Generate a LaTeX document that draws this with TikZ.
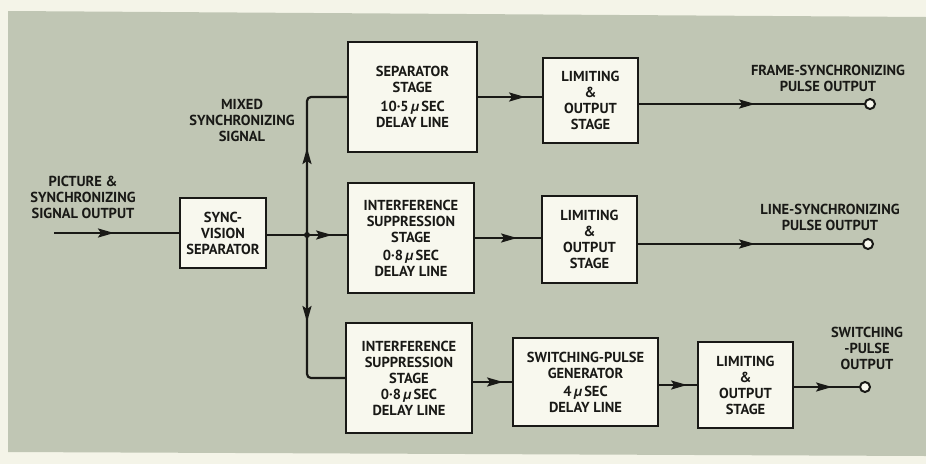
\documentclass[tikz,border=0pt]{standalone}
\usepackage{fontspec}
\setmainfont{PT Sans}
\usetikzlibrary{arrows.meta,decorations.markings}
\definecolor{panel}{RGB}{192,198,180}
\definecolor{paper}{RGB}{244,244,232}
\definecolor{boxfill}{RGB}{248,248,238}
\definecolor{ink}{RGB}{25,25,22}
\newcommand{\micro}{{\itshape µ}}
\tikzset{
  blk/.style={draw=ink,line width=2.2pt,fill=boxfill,align=center,inner sep=0pt,
    font=\bfseries\fontsize{14.5}{16}\selectfont,text=ink},
  lbl/.style={align=center,inner sep=0pt,font=\bfseries\fontsize{14.5}{16}\selectfont,text=ink},
  wire/.style={draw=ink,line width=2.2pt},
  arrowat/.style={postaction={decorate},decoration={markings,
    mark=at position #1 with {\arrow{Stealth[length=16pt,width=9pt,inset=3pt]}}}},
  term/.style={circle,draw=ink,line width=2pt,fill=boxfill,minimum size=10pt,inner sep=0pt}
}
\begin{document}
\begin{tikzpicture}[x=1pt,y=-1pt]
\useasboundingbox[fill=paper] (0,0) rectangle (926,464);
\fill[panel] (8,11) -- (926,17) -- (926,456) -- (8,452) -- cycle;

% boxes
\node[blk,minimum width=86pt,minimum height=70pt] (sync) at (223,233) {SYNC-\\VISION\\SEPARATOR};
\node[blk,minimum width=129pt,minimum height=110pt] (sep) at (412.5,97) {SEPARATOR\\STAGE\\[3pt]10·5\,\micro\,SEC\\DELAY LINE};
\node[blk,minimum width=126pt,minimum height=110pt] (int1) at (411,238) {INTERFERENCE\\SUPPRESSION\\STAGE\\[2pt]0·8\,\micro\,SEC\\DELAY LINE};
\node[blk,minimum width=126pt,minimum height=110pt] (int2) at (409,378) {INTERFERENCE\\SUPPRESSION\\STAGE\\0·8\,\micro\,SEC\\DELAY LINE};
\node[blk,minimum width=145pt,minimum height=88pt] (sw) at (585.5,382) {SWITCHING-PULSE\\GENERATOR\\[2pt]4\,\micro\,SEC\\DELAY LINE};
\node[blk,minimum width=95pt,minimum height=85pt] (lim1) at (590.5,100.5) {LIMITING\\\&\\OUTPUT\\STAGE};
\node[blk,minimum width=95pt,minimum height=87pt] (lim2) at (589.5,239.5) {LIMITING\\\&\\OUTPUT\\STAGE};
\node[blk,minimum width=95pt,minimum height=86pt] (lim3) at (745.5,385) {LIMITING\\\&\\OUTPUT\\STAGE};

% labels
\node[lbl] (linlbl) at (83,197) {PICTURE \&\\SYNCHRONIZING\\SIGNAL OUTPUT};
\node[lbl] (mixlbl) at (242,120) {MIXED\\SYNCHRONIZING\\SIGNAL};
\node[lbl] (frlbl) at (828,78) {FRAME-SYNCHRONIZING\\PULSE OUTPUT};
\node[lbl] (lnlbl) at (830,217) {LINE-SYNCHRONIZING\\PULSE OUTPUT};
\node[lbl] (swlbl) at (867,348) {SWITCHING\\-PULSE\\OUTPUT};

% coordinates
\coordinate (in) at (54,233);
\coordinate (j) at (307,235);

% wires
\draw[wire,arrowat=60pt] (in) -- (sync.west |- in);
\draw[wire,arrowat=65pt] (sync.east |- j) -- (j) -- (int1.west |- j);
\draw[wire,rounded corners=4pt,arrowat=87pt] (j) -- (j |- sep.west) -- (sep.west);
\draw[wire,rounded corners=4pt,arrowat=87pt] (j) -- (j |- int2.west) -- (int2.west);
\fill[ink] (j) circle (3pt);

\draw[wire,arrowat=47pt] (sep.east) -- (sep.east -| lim1.west);
\draw[wire,arrowat=42pt] (int1.east) -- (int1.east -| lim2.west);
\draw[wire,arrowat=30pt] (int2.east |- sw.west) -- (sw.west);
\draw[wire,arrowat=28pt] (sw.east |- lim3.west) -- (lim3.west);

\node[term] (out1) at (870,104) {};
\node[term] (out2) at (868,244) {};
\node[term] (out3) at (865,387) {};
\draw[wire,arrowat=116pt] (lim1.east |- out1) -- (out1.west);
\draw[wire,arrowat=117pt] (lim2.east |- out2) -- (out2.west);
\draw[wire,arrowat=38pt] (lim3.east |- out3) -- (out3.west);
\end{tikzpicture}
\end{document}
